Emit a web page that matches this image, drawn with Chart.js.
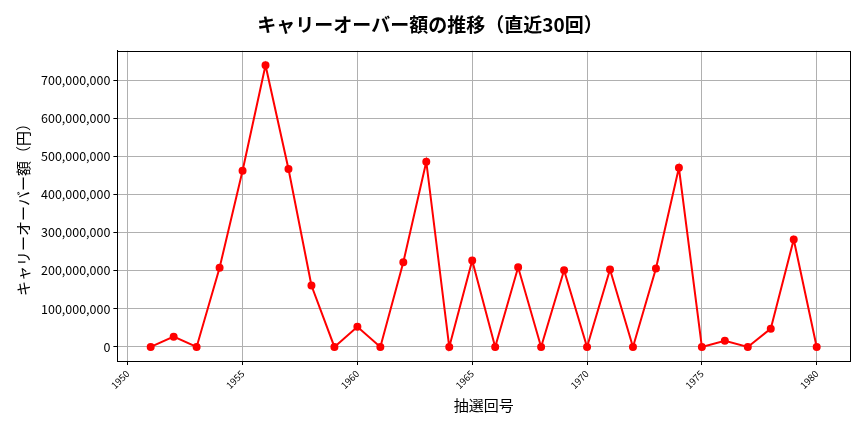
<!DOCTYPE html>
<html>
<head>
<meta charset="utf-8">
<script src="https://cdn.jsdelivr.net/npm/chart.js@4/dist/chart.umd.min.js"></script>
<style>
  html, body { margin: 0; padding: 0; background: #fff; }
  #wrap { width: 864px; height: 432px; }
</style>
</head>
<body>
<div id="wrap"><canvas id="carryChart" width="864" height="432"></canvas></div>
<script>
// 抽選回号とキャリーオーバー額
const draws = [1951, 1952, 1953, 1954, 1955, 1956, 1957, 1958, 1959, 1960,
               1961, 1962, 1963, 1964, 1965, 1966, 1967, 1968, 1969, 1970,
               1971, 1972, 1973, 1974, 1975, 1976, 1977, 1978, 1979, 1980];
const carryOver = [0, 27000000, 0, 208000000, 462000000, 739000000, 467000000, 161000000, 0, 53000000,
                   0, 222000000, 486000000, 0, 227000000, 0, 209000000, 0, 201000000, 0,
                   203000000, 0, 206000000, 470000000, 0, 16000000, 0, 48000000, 282000000, 0];
const xTicks = [1950, 1955, 1960, 1965, 1970, 1975, 1980];
const yTicks = [0, 100000000, 200000000, 300000000, 400000000, 500000000, 600000000, 700000000];

const font = "'Noto Sans CJK JP', 'Noto Sans', sans-serif";

const points = draws.map((d, i) => ({ x: d, y: carryOver[i] }));

// 枠線（上・右も描く）
const frame = {
    id: 'frame',
    afterDraw(chart) {
        const a = chart.chartArea;
        const c = chart.ctx;
        c.save();
        c.strokeStyle = '#000';
        c.lineWidth = 1;
        c.strokeRect(Math.round(a.left) + 0.5, Math.round(a.top) + 0.5,
                     Math.round(a.right - a.left), Math.round(a.bottom - a.top));
        c.restore();
    }
};

const ctx = document.getElementById('carryChart').getContext('2d');
new Chart(ctx, {
    type: 'scatter',
    data: {
        datasets: [{
            label: 'キャリーオーバー額',
            data: points,
            showLine: true,
            borderColor: '#ff0000',
            backgroundColor: '#ff0000',
            borderWidth: 2,
            pointRadius: 3,
            pointHoverRadius: 3
        }]
    },
    options: {
        responsive: false,
        animation: false,
        layout: { padding: { left: 10, right: 14, top: 10, bottom: 14 } },
        plugins: {
            legend: { display: false },
            tooltip: { enabled: false },
            title: {
                display: true,
                text: 'キャリーオーバー額の推移（直近30回）',
                color: '#000',
                font: { family: font, size: 19, weight: 'bold' },
                padding: { top: 3, bottom: 15 }
            }
        },
        scales: {
            x: {
                type: 'linear',
                min: 1949.55,
                max: 1981.45,
                afterBuildTicks: axis => { axis.ticks = xTicks.map(v => ({ value: v })); },
                ticks: {
                    color: '#000',
                    font: { family: font, size: 9.5 },
                    maxRotation: 45,
                    minRotation: 45,
                    callback: v => String(v)
                },
                grid: { color: '#b0b0b0', tickColor: '#000', tickLength: 4 },
                border: { color: '#000', width: 1 },
                title: {
                    display: true,
                    text: '抽選回号',
                    color: '#000',
                    font: { family: font, size: 15 },
                    padding: { top: 2 }
                }
            },
            y: {
                min: -37000000,
                max: 777000000,
                afterBuildTicks: axis => { axis.ticks = yTicks.map(v => ({ value: v })); },
                ticks: {
                    color: '#000',
                    font: { family: font, size: 12.5 },
                    callback: v => v.toLocaleString('en-US')
                },
                grid: { color: '#b0b0b0', tickColor: '#000', tickLength: 4 },
                border: { color: '#000', width: 1 },
                title: {
                    display: true,
                    text: 'キャリーオーバー額（円）',
                    color: '#000',
                    font: { family: font, size: 15 },
                    padding: { bottom: 6 }
                }
            }
        }
    },
    plugins: [frame]
});
</script>
</body>
</html>
